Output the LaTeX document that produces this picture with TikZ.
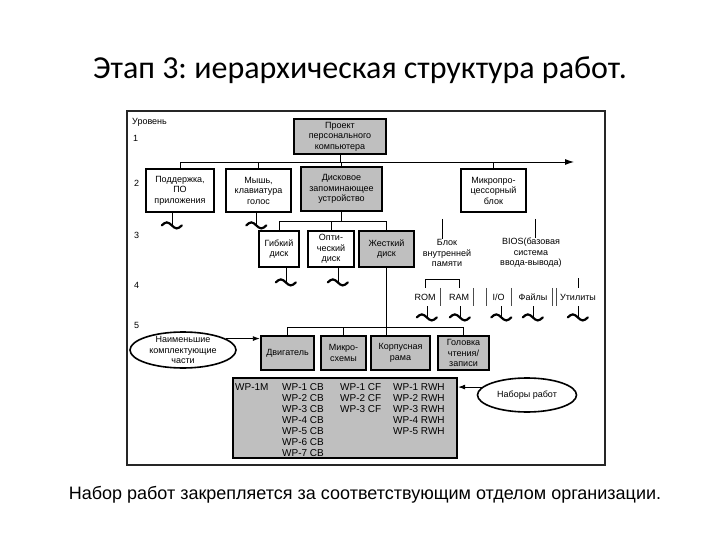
\documentclass[tikz,border=0pt]{standalone}
\usepackage{fontspec}
\setmainfont{Liberation Sans}
\newfontfamily\titlefont{Carlito}
\usetikzlibrary{arrows.meta, positioning, shapes.geometric}
\definecolor{boxgray}{gray}{0.75}
\frenchspacing

\begin{document}
\begin{tikzpicture}[
    x=1pt, y=-1pt,
    >={Latex[length=7pt,width=5pt]},
    every node/.style={font=\fontsize{9}{10.5}\selectfont},
    wbox/.style={draw, line width=2.4pt, fill=white, align=center, inner sep=0pt},
    gbox/.style={wbox, fill=boxgray},
    oval/.style={ellipse, draw, line width=1.6pt, align=center, inner xsep=2pt, inner ysep=-4pt},
    wave/.style={inner sep=0pt, minimum width=20pt, minimum height=6pt},
    squig/.style={line width=2.2pt, line cap=round},
    word/.style={inner sep=0pt, minimum height=18pt},
    lvl/.style={anchor=west, inner sep=0pt},
    wp/.style={anchor=north west, align=left, inner sep=0pt, font=\fontsize{10}{11}\selectfont},
    bar/.style={line width=0.6pt, black!70},
    link/.style={line width=0.9pt}
]
\useasboundingbox (0,0) rectangle (720,540);

\node[font=\titlefont\fontsize{32}{32}\selectfont] (title) at (360,70) {Этап 3: иерархическая структура работ.};

\draw[line width=2.2pt, black!85] (127,111) rectangle (605,465);

% levels
\node[lvl] (lv0) at (132,122) {Уровень};
\node[lvl] (lv1) at (133,138) {1};
\node[lvl] (lv2) at (134,183) {2};
\node[lvl] (lv3) at (134,235) {3};
\node[lvl] (lv4) at (134,285) {4};
\node[lvl] (lv5) at (134,325) {5};

% level 1
\node[gbox, minimum width=92pt, minimum height=35pt] (pc) at (340,136.5) {Проект\\персонального\\компьютера};

% level 2
\node[wbox, minimum width=68pt, minimum height=43pt] (soft) at (180,190.5) {Поддержка,\\ПО\\приложения};
\node[wbox, minimum width=65pt, minimum height=43pt] (mouse) at (258.5,190.5) {Мышь,\\клавиатура\\голос};
\node[gbox, minimum width=81pt, minimum height=44pt] (disk) at (341.5,189) {Дисковое\\запоминающее\\устройство};
\node[wbox, minimum width=65pt, minimum height=43pt] (cpu) at (493.5,190.5) {Микропро-\\цессорный\\блок};

% level 3
\node[wbox, minimum width=40pt, minimum height=36pt] (floppy) at (279,249) {Гибкий\\диск};
\node[wbox, minimum width=46pt, minimum height=36pt] (optic) at (331,249) {Опти-\\ческий\\диск};
\node[gbox, minimum width=55pt, minimum height=36pt] (hdd) at (386.5,249) {Жесткий\\диск};
\node[align=center, inner sep=0pt] (mem) at (447,253) {Блок\\внутренней\\памяти};
\node[align=center, inner sep=0pt] (bios) at (531,253) {BIOS(базовая\\система\\ввода-вывода)};

% level 4
\node[word, minimum width=30pt] (rom) at (425,297) {ROM};
\node[word, minimum width=28pt] (ram) at (459,297) {RAM};
\node[word, minimum width=25pt] (io) at (498.5,297) {I/O};
\node[word, minimum width=38pt] (files) at (533,297) {Файлы};
\node[word, minimum width=44pt] (util) at (578,297) {Утилиты};

% level 5
\node[gbox, minimum width=53pt, minimum height=34pt] (motor) at (287.5,353) {Двигатель};
\node[gbox, minimum width=45pt, minimum height=34pt] (chip) at (343.5,353) {Микро-\\схемы};
\node[gbox, minimum width=59pt, minimum height=34pt] (frame) at (400.5,353) {Корпусная\\рама};
\node[gbox, minimum width=51pt, minimum height=34pt] (head) at (463.5,353) {Головка\\чтения/\\записи};

\node[oval, minimum width=106pt, minimum height=36pt] (least) at (183,350) {Наименьшие\\комплектующие\\части};

% work packages
\node[gbox, line width=2.2pt, minimum width=224pt, minimum height=80pt] (wpbox) at (345,418) {};
\node[wp] (wpm) at (235,383) {WP-1M};
\node[wp] (wpcb) at (282,383) {WP-1 CB\\WP-2 CB\\WP-3 CB\\WP-4 CB\\WP-5 CB\\WP-6 CB\\WP-7 CB};
\node[wp] (wpcf) at (340,383) {WP-1 CF\\WP-2 CF\\WP-3 CF};
\node[wp] (wprwh) at (393,383) {WP-1 RWH\\WP-2 RWH\\WP-3 RWH\\WP-4 RWH\\WP-5 RWH};
\node[oval, minimum width=99pt, minimum height=34pt] (sets) at (527,395) {Наборы работ};

% tildes
\node[wave, below=9pt of soft, xshift=-8pt] (wsoft) {};
\node[wave, below=9pt of mouse, xshift=-2pt] (wmouse) {};
\node[wave, below=11pt of floppy, xshift=7pt] (wfloppy) {};
\node[wave, below=11pt of optic, xshift=7pt] (woptic) {};
\node[wave, below=8pt of rom, xshift=2pt] (wrom) {};
\node[wave, below=8pt of ram, xshift=1pt] (wram) {};
\node[wave, below=8pt of io, xshift=3pt] (wio) {};
\node[wave, below=8pt of files] (wfiles) {};
\node[wave, below=8pt of util] (wutil) {};
\foreach \w in {wsoft, wmouse, wfloppy, woptic, wrom, wram, wio, wfiles, wutil}
    \draw[squig] (\w.west) sin ++(5,-3) cos ++(5,3) sin ++(5,3) cos ++(5,-3);

% level 1 -> level 2
\coordinate (busL) at (180,162);
\coordinate (busR) at (574,162);
\draw[link, ->, >={Latex[length=9pt,width=6pt]}] (busL) -- (busR);
\draw[link] (pc.south) -- (pc.south |- busL);
\foreach \n in {soft, mouse, disk, cpu}
    \draw[link] (\n.north) -- (\n.north |- busL);

% level 2 -> level 3
\foreach \n in {soft, mouse}
    \draw[link] (w\n.center |- \n.south) -- (w\n.center);
\coordinate (dbus) at (279,221);
\draw[link] (floppy.north) -- (floppy.north |- dbus) -- (hdd.north |- dbus) -- (hdd.north);
\draw[link] (optic.north) -- (optic.north |- dbus);
\draw[link] (disk.south) -- (disk.south |- dbus);
\coordinate (memtop) at (442,219);
\coordinate (biostop) at (535,219);
\draw[link] (memtop) -- (memtop |- mem.north);
\draw[link] (biostop) -- (biostop |- bios.north);

% level 3 -> level 4
\foreach \n in {floppy, optic}
    \draw[link] (w\n.center |- \n.south) -- (w\n.center);
\coordinate (membr) at (425,279);
\draw[link] (rom.north) -- (rom.north |- membr) -- (ram.north |- membr) -- (ram.north);
\coordinate (biosbr) at (578,278);
\draw[link] (util.north) -- (util.north |- biosbr);
\foreach \n in {rom, ram, io, files, util}
    \draw[link] (w\n.center |- \n.south) -- (w\n.center);
\draw[bar] (rom.north east) -- (rom.south east);
\draw[bar] (ram.north east) -- (ram.south east);
\draw[bar] (io.north west) -- (io.south west);
\draw[bar] (io.north east) -- (io.south east);
\draw[bar] (files.north east) -- (files.south east);
\draw[bar] (util.north west) -- (util.south west);

% level 3 -> level 5
\coordinate (pbus) at (287.5,327);
\draw[link] (hdd.south) -- (hdd.south |- frame.north);
\draw[link] (motor.north) -- (motor.north |- pbus) -- (head.north |- pbus) -- (head.north);
\draw[link] (chip.north) -- (chip.north |- pbus);
\draw[link, ->] (least.15) -- (least.15 -| motor.west);
\draw[link, ->] (sets.170) -- (sets.170 -| wpbox.east);

\node[font=\fontsize{18}{18}\selectfont] (caption) at (365,495) {Набор работ закрепляется за соответствующим отделом организации.};
\end{tikzpicture}
\end{document}
